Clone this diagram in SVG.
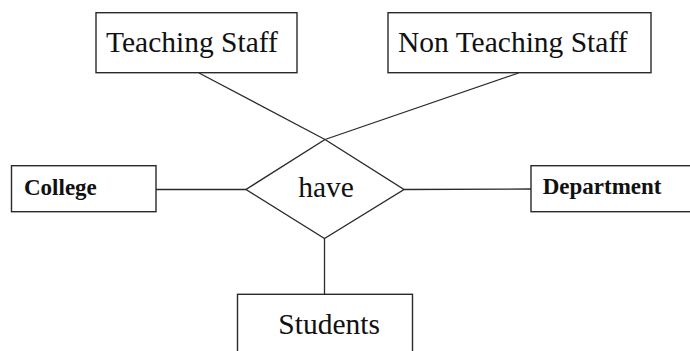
<svg xmlns="http://www.w3.org/2000/svg" width="690" height="351" viewBox="0 0 690 351">
<style>
.box{fill:#fff;stroke:#2a2a2a;stroke-width:1.4}
.ln{stroke:#2a2a2a;stroke-width:1.3;fill:none}
.t{font-family:"Liberation Serif","Times New Roman",serif;font-size:29.5px;fill:#111}
.b{font-family:"Liberation Serif","Times New Roman",serif;font-size:23px;font-weight:bold;fill:#111}
</style>
<rect width="690" height="351" fill="#fff"/>
<g id="connectors">
<line class="ln" x1="199" y1="73" x2="325" y2="139.5"/>
<line class="ln" x1="518.5" y1="73" x2="325" y2="139.5"/>
<line class="ln" x1="156" y1="189.5" x2="246" y2="189.5"/>
<line class="ln" x1="404" y1="189.5" x2="531" y2="189"/>
<line class="ln" x1="324.5" y1="238.5" x2="324.5" y2="294"/>
</g>
<g id="teaching-staff">
<rect class="box" x="96" y="12.7" width="201" height="60"/>
<text class="t" x="106" y="51.7">Teaching Staff</text>
</g>
<g id="non-teaching-staff">
<rect class="box" x="388" y="12.7" width="263" height="60"/>
<text class="t" x="398" y="51.7">Non Teaching Staff</text>
</g>
<g id="college">
<rect class="box" x="11.5" y="165.7" width="144.5" height="46"/>
<text class="b" x="24" y="195">College</text>
</g>
<g id="department">
<rect class="box" x="531" y="165.7" width="165" height="46"/>
<text class="b" x="542.7" y="194">Department</text>
</g>
<g id="have">
<polygon class="box" points="325,139.5 404,189.5 324.5,238.5 246,189.5"/>
<text class="t" x="326" y="197.3" text-anchor="middle">have</text>
</g>
<g id="students">
<rect class="box" x="237.5" y="294.3" width="175" height="70"/>
<text class="t" x="278.3" y="334.3">Students</text>
</g>
</svg>
